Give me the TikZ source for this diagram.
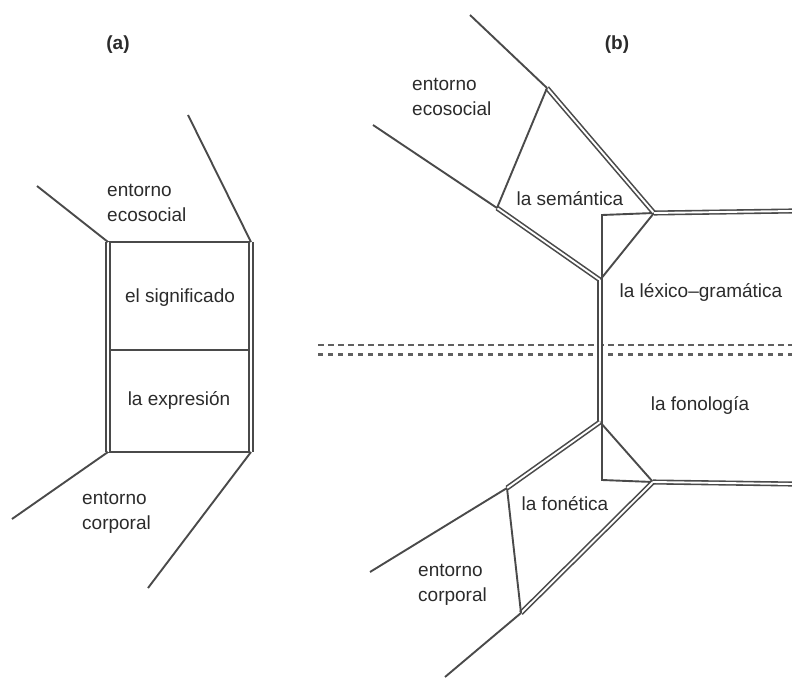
\documentclass[tikz,border=0pt]{standalone}
\usepackage{fontspec}
\setmainfont{Liberation Sans}
\definecolor{linecol}{HTML}{4A4A4A}
\definecolor{txtcol}{HTML}{2B2B2B}
\definecolor{dashcol}{HTML}{606060}
\begin{document}
\begin{tikzpicture}[x=1pt,y=-1pt,
  sl/.style={draw=linecol, line width=1.9pt},
  dl/.style={draw=linecol, line width=1.6pt, double=white, double distance=1.9pt},
  lbl/.style={text=txtcol, font=\fontsize{19}{25}\selectfont, inner sep=0pt, align=left},
  ttl/.style={text=txtcol, font=\fontsize{19}{25}\selectfont\bfseries, inner sep=0pt},
  dshA/.style={draw=dashcol, line width=2.4pt, dash pattern=on 6pt off 4pt},
  dshB/.style={draw=dashcol, line width=3pt, dash pattern=on 5pt off 5pt}]
\useasboundingbox (0,0) rectangle (792,679);

% ---------- panel (a) ----------
\node[ttl] (ta) at (118,45) {(a)};
\coordinate (aTL) at (108,242);
\coordinate (aTR) at (251,242);
\coordinate (aML) at (108,350);
\coordinate (aMR) at (251,350);
\coordinate (aBL) at (108,452);
\coordinate (aBR) at (251,452);
\coordinate (aE1) at (37,186);
\coordinate (aE2) at (188,115);
\coordinate (aC1) at (12,519);
\coordinate (aC2) at (148,588);
\draw[sl] (aTL) -- (aTR);
\draw[sl] (aML) -- (aMR);
\draw[sl] (aBL) -- (aBR);
\draw[dl] (aTL) -- (aBL);
\draw[dl] (aTR) -- (aBR);
\draw[sl] (aE1) -- (aTL);
\draw[sl] (aE2) -- (aTR);
\draw[sl] (aC1) -- (aBL);
\draw[sl] (aC2) -- (aBR);
\node[lbl, anchor=west] (aeco) at (107,202.5) {entorno\\ecosocial};
\node[lbl] (asig) at (180,298) {el significado};
\node[lbl] (aexp) at (179,400) {la expresión};
\node[lbl, anchor=west] (acor) at (82,513) {entorno\\corporal};

% ---------- panel (b) ----------
\node[ttl] (tb) at (617,45) {(b)};
\coordinate (A) at (547,88);
\coordinate (B) at (654,213);
\coordinate (C) at (600,280);
\coordinate (D) at (497,208);
\coordinate (E) at (600,422);
\coordinate (F) at (653,482);
\coordinate (G) at (521,613);
\coordinate (H) at (507,488);
\coordinate (Aend) at (470,15);
\coordinate (Dend) at (373,125);
\coordinate (Hend) at (370,572);
\coordinate (Gend) at (445,677);
\coordinate (Rtop) at (792,211);
\coordinate (Rbot) at (792,484);
\coordinate (iTL) at (602,215);
\coordinate (iBL) at (602,480);
\coordinate (dL1) at (318,345);
\coordinate (dR1) at (792,345);
\coordinate (dL2) at (318,354);
\coordinate (dR2) at (792,354);

% dashed boundary
\draw[dshA] (dL1) -- (dR1);
\draw[dshB] (dL2) -- (dR2);

% inner thin frame
\draw[sl] (B) -- (iTL) -- (iBL) -- (F);

% semantics quadrilateral
\draw[dl] (A) -- (B);
\draw[sl] (B) -- (C);
\draw[dl] (C) -- (D);
\draw[sl] (D) -- (A);
\draw[sl] (Aend) -- (A);
\draw[sl] (Dend) -- (D);

% vertical double line
\draw[dl] (C) -- (E);

% phonetics quadrilateral
\draw[sl] (E) -- (F);
\draw[dl] (F) -- (G);
\draw[sl] (G) -- (H);
\draw[dl] (H) -- (E);
\draw[sl] (Hend) -- (H);
\draw[sl] (Gend) -- (G);

% horizontal double lines to the right
\draw[dl] (B) -- (Rtop);
\draw[dl] (F) -- (Rbot);

\node[lbl, anchor=west] (beco) at (412,96.5) {entorno\\ecosocial};
\node[lbl] (bsem) at (570,199) {la semántica};
\node[lbl] (blex) at (701,292) {la léxico–gramática};
\node[lbl] (bfon) at (700,405) {la fonología};
\node[lbl] (bfonet) at (565,504) {la fonética};
\node[lbl, anchor=west] (bcor) at (418,585) {entorno\\corporal};
\end{tikzpicture}
\end{document}
